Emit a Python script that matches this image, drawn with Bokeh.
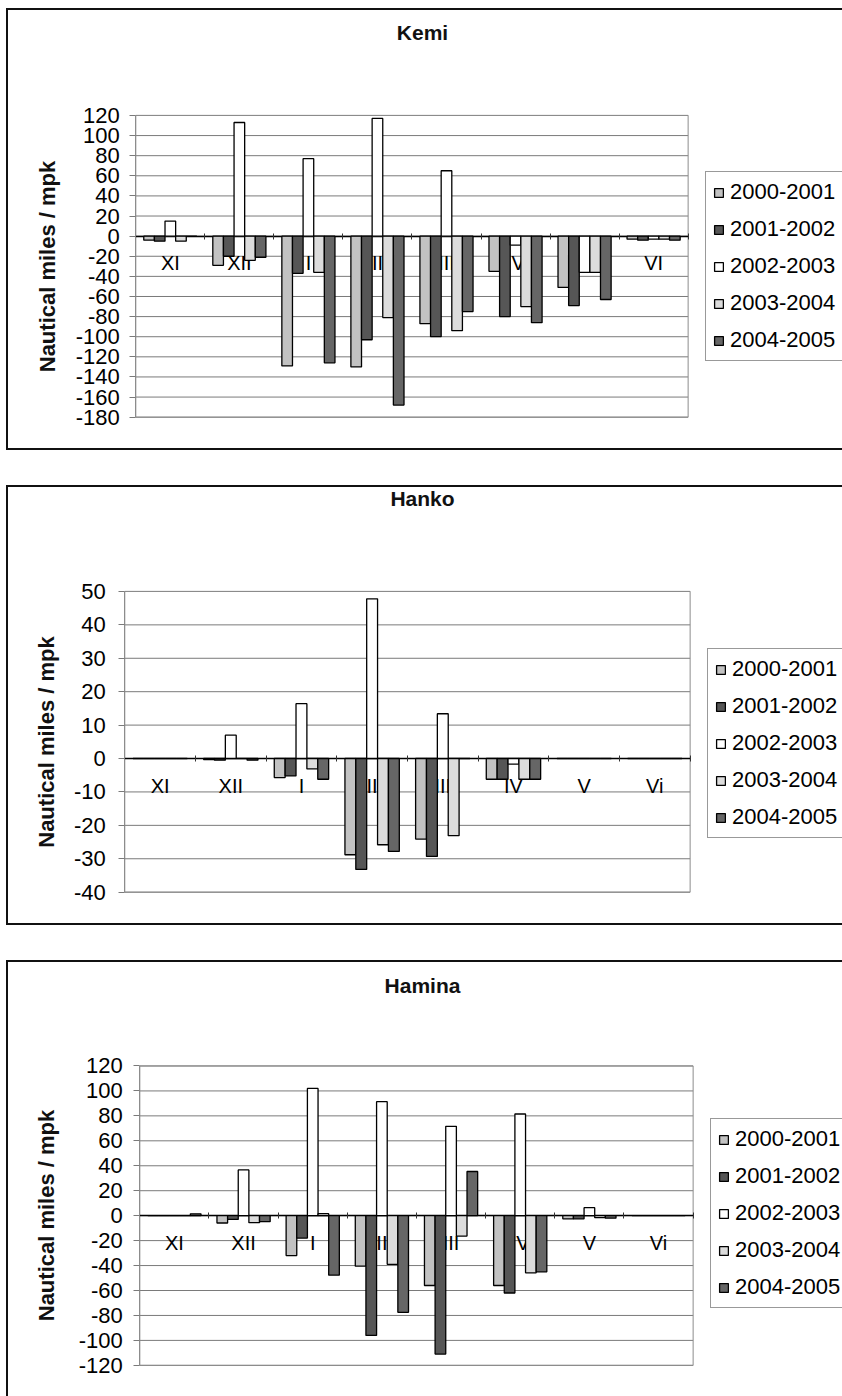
from bokeh.plotting import figure
from bokeh.models import (ColumnDataSource, Range1d, FixedTicker, Legend, LegendItem,
                          Label, LinearAxis)
from bokeh.transform import dodge
from bokeh.layouts import column
from bokeh.embed import file_html
from bokeh.resources import INLINE

seasons = ["2000-2001", "2001-2002", "2002-2003", "2003-2004", "2004-2005"]

kemi_months = ["XI", "XII", "I", "II", "III", "IV", "V", "VI"]
kemi_2000_2001 = [-4, -29, -129, -130, -87, -35, -51, -3]
kemi_2001_2002 = [-5, -20, -37, -103, -100, -80, -69, -4]
kemi_2002_2003 = [15, 113, 77, 117, 65, -9, -36, -3]
kemi_2003_2004 = [-5, -24, -36, -81, -94, -70, -36, -3]
kemi_2004_2005 = [0, -21, -126, -168, -75, -86, -63, -4]
kemi_ticks = [-180, -160, -140, -120, -100, -80, -60, -40, -20, 0, 20, 40, 60, 80, 100, 120]

hanko_months = ["XI", "XII", "I", "II", "III", "IV", "V", "Vi"]
hanko_2000_2001 = [0, -0.3, -5.7, -28.8, -24.1, -6.2, 0, 0]
hanko_2001_2002 = [0, -0.5, -5.2, -33.2, -29.3, -6.2, 0, 0]
hanko_2002_2003 = [0, 7.0, 16.4, 47.8, 13.4, -1.7, 0, 0]
hanko_2003_2004 = [0, 0, -3.1, -25.8, -23.1, -6.2, 0, 0]
hanko_2004_2005 = [0, -0.5, -6.2, -27.8, 0, -6.2, 0, 0]
hanko_ticks = [-40, -30, -20, -10, 0, 10, 20, 30, 40, 50]

hamina_months = ["XI", "XII", "I", "II", "III", "IV", "V", "Vi"]
hamina_2000_2001 = [0, -5.9, -32, -40.5, -56, -56, -2.5, 0]
hamina_2001_2002 = [0, -3, -18, -96, -111, -62, -2.5, 0]
hamina_2002_2003 = [0, 36.7, 102, 91.4, 71.6, 81.5, 6.4, 0]
hamina_2003_2004 = [0, -5.6, 1.6, -39, -16.4, -45.8, -1.6, 0]
hamina_2004_2005 = [1.5, -4.8, -47.7, -77.5, 35.4, -45, -2, 0]
hamina_ticks = [-120, -100, -80, -60, -40, -20, 0, 20, 40, 60, 80, 100, 120]

fills = ["#c2c2c2", "#565656", "#ffffff", "#dcdcdc", "#666666"]
FONT = "Liberation Sans"
BAR_W = 1 / 6.5
GRID = "#7a7a7a"


def make_panel(title, months, series, ticks, fig_h, content, chart, title_c, legend_bl,
               ylab_standoff, ytick_standoff, styles):
    """content / chart: pixel boxes (x0, y0, x1, y1) of the panel interior and plot area."""
    n = len(months)
    y0, y1 = ticks[0], ticks[-1]
    cx0, cy0, cx1, cy1 = content
    px0, py0, px1, py1 = chart
    sx = (px1 - px0) / n
    sy = (py1 - py0) / (y1 - y0)
    xr = Range1d(0 - (px0 - cx0) / sx, n + (cx1 - px1) / sx)
    yr = Range1d(y0 - (cy1 - py1) / sy, y1 + (py0 - cy0) / sy)

    def to_data(x_px, y_px):
        return xr.start + (x_px - cx0) / sx, yr.end - (y_px - cy0) / sy

    centers = [i + 0.5 for i in range(n)]
    bounds = list(range(n + 1))

    cols = ["s0", "s1", "s2", "s3", "s4"]
    data = {"xc": centers}
    for c, s in zip(cols, series):
        data[c] = s
    src = ColumnDataSource(data)

    p = figure(x_range=xr, y_range=yr, width=836, height=fig_h,
               output_backend="svg", toolbar_location=None,
               x_axis_location=None, y_axis_location=None,
               min_border=0, min_border_left=0, min_border_right=0,
               min_border_top=0, min_border_bottom=0,
               background_fill_color="white", border_fill_color="white",
               outline_line_color=None, styles=styles)
    p.xgrid.visible = False
    p.ygrid.visible = False

    # plot-area grid lines and frame
    p.segment(x0=[0] * len(ticks), x1=[n] * len(ticks), y0=ticks, y1=ticks,
              line_color=GRID, line_width=1, level="underlay")
    p.quad(left=[0], right=[n], bottom=[y0], top=[y1], fill_color=None,
           line_color="#8c8c8c", line_width=1, level="underlay")

    # x axis at zero
    xax = LinearAxis(fixed_location=0, bounds=(0, n),
                     ticker=FixedTicker(ticks=centers, minor_ticks=bounds),
                     major_label_overrides={c: m for c, m in zip(centers, months)})
    xax.level = "underlay"
    xax.axis_line_color = "black"
    xax.axis_line_width = 1.5
    xax.major_tick_line_color = None
    xax.major_tick_out = 0
    xax.major_tick_in = 0
    xax.minor_tick_line_color = "#333333"
    xax.minor_tick_in = 3
    xax.minor_tick_out = 3
    xax.major_label_standoff = 13
    xax.major_label_text_font = FONT
    xax.major_label_text_font_size = "20px"
    xax.major_label_text_color = "black"
    p.add_layout(xax, "below")

    # y axis
    yax = LinearAxis(fixed_location=0, bounds=(y0, y1), ticker=FixedTicker(ticks=ticks),
                     major_label_overrides={t: str(t) for t in ticks})
    yax.axis_line_color = "#8c8c8c"
    yax.major_tick_line_color = GRID
    yax.major_tick_out = 6
    yax.major_tick_in = 0
    yax.minor_tick_line_color = None
    yax.major_label_standoff = ytick_standoff
    yax.major_label_text_font = FONT
    yax.major_label_text_font_size = "22px"
    yax.major_label_text_color = "black"
    yax.axis_label = "Nautical miles / mpk"
    yax.axis_label_text_font = FONT
    yax.axis_label_text_font_style = "bold"
    yax.axis_label_text_font_size = "22px"
    yax.axis_label_text_color = "#111111"
    yax.axis_label_standoff = ylab_standoff
    p.add_layout(yax, "left")

    items = []
    for k, (c, lab) in enumerate(zip(cols, seasons)):
        r = p.vbar(x=dodge("xc", (k - 2) * BAR_W), top=c, bottom=0,
                   width=BAR_W, source=src, fill_color=fills[k], line_color="black",
                   line_width=1.3)
        items.append(LegendItem(label=lab, renderers=[r]))

    lx, ly = legend_bl
    legend = Legend(items=items, location=(lx - cx0, cy1 - ly),
                    label_text_font=FONT,
                    label_text_font_size="22px", label_text_color="black",
                    glyph_width=11, glyph_height=11, label_standoff=6, spacing=11,
                    padding=7, margin=0, border_line_color="#333333",
                    border_line_width=1, background_fill_color="white")
    p.add_layout(legend)

    tx, ty = to_data(*title_c)
    p.add_layout(Label(x=tx, y=ty, text=title, text_align="center",
                       text_baseline="middle", text_font=FONT, text_font_style="bold",
                       text_font_size="21px", text_color="#111111"))
    return p


border_full = {"border-top": "2px solid #111", "border-left": "2px solid #111",
               "border-bottom": "2px solid #111"}
border_open = {"border-top": "2px solid #111", "border-left": "2px solid #111"}

p1 = make_panel("Kemi", kemi_months,
                [kemi_2000_2001, kemi_2001_2002, kemi_2002_2003, kemi_2003_2004, kemi_2004_2005],
                kemi_ticks, 442, (8, 10, 842, 448), (135, 114, 686, 413), (421, 32),
                (705, 357), 12, 10, border_full)
p2 = make_panel("Hanko", hanko_months,
                [hanko_2000_2001, hanko_2001_2002, hanko_2002_2003, hanko_2003_2004, hanko_2004_2005],
                hanko_ticks, 440, (8, 487, 842, 923), (124, 590, 688, 888), (421, 498),
                (707, 834), 12, 13, border_full)
p3 = make_panel("Hamina", hamina_months,
                [hamina_2000_2001, hamina_2001_2002, hamina_2002_2003, hamina_2003_2004, hamina_2004_2005],
                hamina_ticks, 436, (8, 962, 842, 1396), (139, 1065, 691, 1363), (421, 985),
                (710, 1306), 16, 11, border_open)

layout = column(p1, p2, p3, spacing=35, margin=(8, 0, 0, 6))

open("out.html", "w").write(file_html(layout, INLINE))
